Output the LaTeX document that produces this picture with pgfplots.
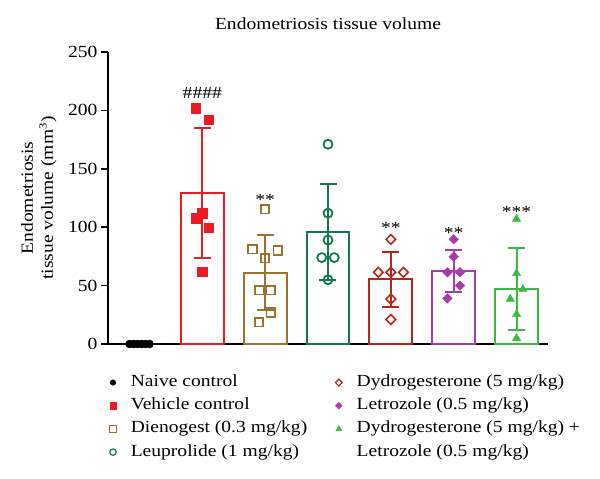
\documentclass[border=0pt]{standalone}
\usepackage{fontspec}
\setmainfont[FakeStretch=1.15]{Liberation Serif}
\usepackage{pgfplots}
\pgfplotsset{compat=1.18}

\definecolor{vehred}{RGB}{237,28,36}
\definecolor{dienobrown}{RGB}{160,113,45}
\definecolor{leugreen}{RGB}{22,120,80}
\definecolor{dydrored}{RGB}{181,38,30}
\definecolor{letpurple}{RGB}{168,60,168}
\definecolor{combogreen}{RGB}{60,184,70}

\newcommand\chartfont{\fontsize{17}{20}\selectfont}

\pgfplotsset{
  grpbar/.style={ybar, bar width=0.68, bar shift=0pt, draw=#1, fill=none,
    line width=2pt, forget plot,
    error bars/.cd, y dir=both, y explicit,
    error bar style={line width=2pt, #1},
    error mark options={rotate=90, mark size=8.5pt, line width=2pt, #1}},
  grppts/.style={only marks, forget plot, #1},
}

\begin{document}
\begin{tikzpicture}
\path (-108pt,-135pt) rectangle (492pt,344pt);
\begin{axis}[
  at={(0,0)}, anchor=south west,
  scale only axis, width=440pt, height=292pt,
  xmin=-0.5, xmax=6.5, ymin=0, ymax=250,
  clip=false,
  axis x line*=bottom, axis y line*=left,
  axis line style={line width=1.6pt, black, -},
  xtick=\empty,
  ytick={0,50,100,150,200,250},
  tick align=outside, major tick length=7pt,
  ytick style={line width=1.6pt, black},
  tick label style={font=\chartfont},
  /pgf/number format/assume math mode=true,
  title={Endometriosis tissue volume},
  title style={at={(0.5,1)}, anchor=base, yshift=16.5pt, font=\chartfont},
  ylabel={Endometriosis\\tissue volume (mm\textsuperscript{\fontsize{11}{11}\selectfont 3})},
  ylabel style={at={(axis description cs:-0.109,0.5)}, anchor=south,
    align=center, font=\chartfont},
  legend columns=2,
  legend cell align=left,
  legend style={draw=none, fill=none, at={(-0.0034,-0.097)}, anchor=north west,
    font=\chartfont,
    nodes={inner sep=0pt, text height=12pt, text depth=4pt},
    row sep=7.2pt,
    /tikz/every odd column/.append style={column sep=14.5pt},
    /tikz/every even column/.append style={column sep=23pt}},
]

% group means with standard deviation
\addplot[grpbar=vehred]     coordinates {(1,129.2) +- (0,55.5)};
\addplot[grpbar=dienobrown] coordinates {(2,60.9)  +- (0,32.2)};
\addplot[grpbar=leugreen]   coordinates {(3,95.8)  +- (0,41.4)};
\addplot[grpbar=dydrored]   coordinates {(4,55.4)  +- (0,23.4)};
\addplot[grpbar=letpurple]  coordinates {(5,62.7)  +- (0,17.9)};
\addplot[grpbar=combogreen] coordinates {(6,47.2)  +- (0,34.9)};

% individual animals
\addplot[grppts={mark=*, mark size=4pt, black}] coordinates {
  (-0.16,0) (-0.095,0) (-0.03,0) (0.03,0) (0.095,0) (0.16,0)};
\addplot[grppts={mark=square*, mark size=4.7pt, vehred}] coordinates {
  (0.9,202) (1.1,191.8) (1.0,112) (0.9,107.6) (1.1,99.6) (1.0,62)};
\addplot[grppts={mark=square, mark size=4.2pt, dienobrown, line width=1.8pt}] coordinates {
  (2.0,115.3) (1.8,81) (2.2,80) (2.0,73.4) (1.91,46) (2.09,46) (2.09,27) (1.9,18.6)};
\addplot[grppts={mark=o, mark size=4.5pt, leugreen, line width=1.8pt}] coordinates {
  (3.0,171) (3.0,112) (3.0,89) (2.9,74) (3.1,74) (3.0,55)};
\addplot[grppts={mark=square, mark size=3.4pt, mark options={rotate=45}, dydrored, line width=1.6pt}] coordinates {
  (4.0,89.6) (3.8,61.4) (4.0,61.4) (4.2,61.4) (4.0,38.5) (4.0,21)};
\addplot[grppts={mark=square*, mark size=3.4pt, mark options={rotate=45}, letpurple}] coordinates {
  (5.0,89.6) (5.0,74.8) (4.9,61.4) (5.1,61.4) (5.1,50) (4.9,39)};
\addplot[grppts={mark=triangle*, mark size=4.8pt, combogreen}] coordinates {
  (6.0,107) (6.0,60.5) (6.1,46.8) (5.9,38.5) (6.0,25.4) (6.0,4.9)};

% significance marks
\node[anchor=base, font=\chartfont] at (axis cs:1,210.4) {\#\#\#\#};
\node[anchor=base, font=\chartfont] at (axis cs:2,118.6) {**};
\node[anchor=base, font=\chartfont] at (axis cs:4,94.3) {**};
\node[anchor=base, font=\chartfont] at (axis cs:5,90.7) {**};
\node[anchor=base, font=\chartfont] at (axis cs:6,108.7) {***};

% legend, filled row by row
\addlegendimage{only marks, mark=*, mark size=2.8pt, black}
\addlegendentry{Naive control}
\addlegendimage{only marks, mark=square, mark size=2.4pt, mark options={rotate=45}, line width=1.2pt, dydrored}
\addlegendentry{Dydrogesterone (5 mg/kg)}
\addlegendimage{only marks, mark=square*, mark size=3.3pt, vehred}
\addlegendentry{Vehicle control}
\addlegendimage{only marks, mark=square*, mark size=2.4pt, mark options={rotate=45}, letpurple}
\addlegendentry{Letrozole (0.5 mg/kg)}
\addlegendimage{only marks, mark=square, mark size=3.2pt, line width=1.2pt, dienobrown}
\addlegendentry{Dienogest (0.3 mg/kg)}
\addlegendimage{only marks, mark=triangle*, mark size=3.4pt, combogreen}
\addlegendentry{Dydrogesterone (5 mg/kg) +}
\addlegendimage{only marks, mark=o, mark size=3.2pt, line width=1.2pt, leugreen}
\addlegendentry{Leuprolide (1 mg/kg)}
\addlegendimage{empty legend}
\addlegendentry{Letrozole (0.5 mg/kg)}
\end{axis}
\end{tikzpicture}
\end{document}
